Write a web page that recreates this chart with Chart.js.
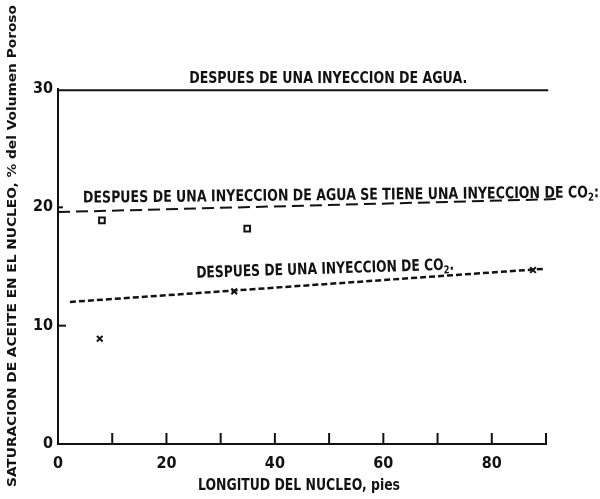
<!DOCTYPE html>
<html>
<head>
<meta charset="utf-8">
<script src="https://cdn.jsdelivr.net/npm/chart.js@4.4.1/dist/chart.umd.min.js"></script>
<style>
  html, body { margin: 0; padding: 0; background: #fff; }
  #wrap { width: 600px; height: 499px; position: relative; }
  canvas { display: block; }
</style>
</head>
<body>
<div id="wrap"><canvas id="c" width="600" height="499"></canvas></div>
<script>
// Axis ticks
const xTickValues = [0, 10, 20, 30, 40, 50, 60, 70, 80, 90];
const xTickLabels = ['0', '', '20', '', '40', '', '60', '', '80', ''];
const yTickValues = [0, 10, 20, 30];

// Oil saturation (% of pore volume) along the core length (ft)
const aguaX = [0, 90.4];
const aguaY = [29.9, 29.9];
const aguaCo2X = [0, 92.3];
const aguaCo2Y = [19.6, 20.7];
const co2X = [2.2, 89.5];
const co2Y = [12.0, 14.8];

// Measured points
const cuadrosX = [8.1, 34.9];
const cuadrosY = [18.9, 18.2];
const crucesX = [7.7, 32.5, 87.6];
const crucesY = [8.9, 12.9, 14.7];

const pts = (xs, ys) => xs.map((v, i) => ({ x: v, y: ys[i] }));

const INK = '#121212';
const FAMILY = "'Liberation Sans Narrow','DejaVu Sans Condensed','Liberation Sans',sans-serif";

// Draws a run of text parts (with optional subscripts), stretched to a given width
function drawText(ctx, parts, px, py, size, width, angleDeg, align) {
  ctx.save();
  const subFont = `bold ${Math.round(size * 0.7)}px ${FAMILY}`;
  let total = 0;
  parts.forEach(p => {
    ctx.font = p.sub ? subFont : `bold ${size}px ${FAMILY}`;
    p.w = ctx.measureText(p.t).width;
    total += p.w;
  });
  const sx = width ? width / total : 1;
  ctx.translate(px, py);
  ctx.rotate(angleDeg * Math.PI / 180);
  ctx.scale(sx, 1);
  let cx = align === 'center' ? -total / 2 : 0;
  ctx.textBaseline = 'middle';
  ctx.textAlign = 'left';
  ctx.fillStyle = INK;
  parts.forEach(p => {
    ctx.font = p.sub ? subFont : `bold ${size}px ${FAMILY}`;
    ctx.fillText(p.t, cx, p.sub ? size * 0.3 : 0);
    cx += p.w;
  });
  ctx.restore();
}

const decorations = {
  id: 'decorations',
  afterDraw(chart) {
    const { ctx, scales: { x, y } } = chart;
    ctx.save();
    ctx.strokeStyle = INK;
    ctx.lineWidth = 2;
    // inward tick marks on the length axis
    const y0 = y.getPixelForValue(0);
    xTickValues.forEach(v => {
      if (v === 0) return;
      const px = x.getPixelForValue(v);
      ctx.beginPath();
      ctx.moveTo(px, y0);
      ctx.lineTo(px, y0 - 11);
      ctx.stroke();
    });
    // inward tick marks on the saturation axis
    const x0 = x.getPixelForValue(0);
    [[10, 8], [20, 5]].forEach(([v, len]) => {
      const py = y.getPixelForValue(v);
      ctx.beginPath();
      ctx.moveTo(x0, py);
      ctx.lineTo(x0 + len, py);
      ctx.stroke();
    });
    ctx.restore();

    // curve labels
    drawText(ctx, [{ t: 'DESPUES DE UNA INYECCION DE AGUA.' }],
      x.getPixelForValue(24.2), y.getPixelForValue(30.9), 16, 278, 0, 'left');
    drawText(ctx, [{ t: 'DESPUES DE UNA INYECCION DE AGUA SE TIENE UNA INYECCION DE CO' }, { t: '2', sub: true }, { t: ':' }],
      x.getPixelForValue(4.6), y.getPixelForValue(20.75), 16, 516, -0.6, 'left');
    drawText(ctx, [{ t: 'DESPUES DE UNA INYECCION DE CO' }, { t: '2', sub: true }, { t: '.' }],
      x.getPixelForValue(25.5), y.getPixelForValue(14.4), 16, 258, -1.8, 'left');

    // axis titles
    drawText(ctx, [{ t: 'LONGITUD DEL NUCLEO, pies' }], 299, 486, 16, 202, 0, 'center');
    drawText(ctx, [{ t: 'SATURACION DE ACEITE EN EL NUCLEO, % del Volumen Poroso' }], 13, 246, 13, 482, -90, 'center');
  }
};

new Chart(document.getElementById('c'), {
  type: 'scatter',
  data: {
    datasets: [
      { data: pts(aguaX, aguaY), showLine: true, borderColor: INK, borderWidth: 2, pointRadius: 0, clip: false },
      { data: pts(aguaCo2X, aguaCo2Y), showLine: true, borderColor: INK, borderWidth: 2, borderDash: [12, 6], pointRadius: 0, clip: false },
      { data: pts(co2X, co2Y), showLine: true, borderColor: INK, borderWidth: 2.5, borderDash: [6, 3], pointRadius: 0, clip: false },
      { data: pts(cuadrosX, cuadrosY), showLine: false, pointStyle: 'rect', pointRadius: 4, pointBorderWidth: 2, pointBorderColor: INK, pointBackgroundColor: '#fff', clip: false },
      { data: pts(crucesX, crucesY), showLine: false, pointStyle: 'crossRot', pointRadius: 4, pointBorderWidth: 2, pointBorderColor: INK, clip: false }
    ]
  },
  options: {
    responsive: false,
    animation: false,
    devicePixelRatio: 1,
    layout: { padding: { left: 28, top: 89, right: 54, bottom: 0 } },
    plugins: { legend: { display: false }, tooltip: { enabled: false } },
    scales: {
      x: {
        type: 'linear', min: 0, max: 90,
        afterBuildTicks: s => { s.ticks = xTickValues.map(v => ({ value: v })); },
        afterFit: s => { s.height = 55; },
        grid: { display: false, drawTicks: false },
        border: { display: true, color: INK, width: 2 },
        ticks: {
          padding: 10, color: INK, maxRotation: 0, autoSkip: false,
          font: { family: FAMILY, size: 16, weight: 'bold' },
          callback: (v, i) => xTickLabels[i]
        }
      },
      y: {
        type: 'linear', min: 0, max: 30,
        afterBuildTicks: s => { s.ticks = yTickValues.map(v => ({ value: v })); },
        afterFit: s => { s.width = 30; },
        grid: { display: false, drawTicks: false },
        border: { display: true, color: INK, width: 2 },
        ticks: {
          padding: 5, color: INK,
          font: { family: FAMILY, size: 16, weight: 'bold' }
        }
      }
    }
  },
  plugins: [decorations]
});
</script>
</body>
</html>
